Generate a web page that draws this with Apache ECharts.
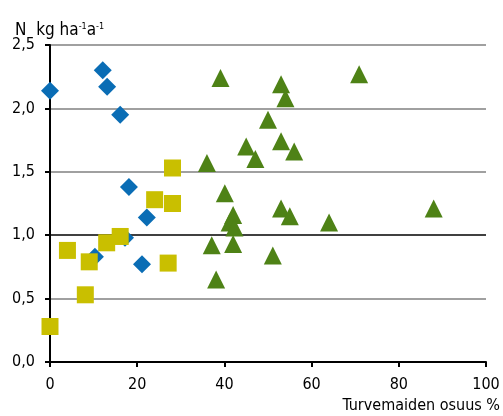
<!DOCTYPE html>
<html>
<head>
<meta charset="utf-8">
<script src="https://cdn.jsdelivr.net/npm/echarts@6/dist/echarts.min.js"></script>
<style>
html,body{margin:0;padding:0;background:#fff;}
#chart{width:503px;height:416px;}
</style>
</head>
<body>
<div id="chart"></div>
<script>
// Data: [turvemaiden osuus %, N kg/ha/a]
var blueDiamonds = [
  [0, 2.14], [12.1, 2.30], [13.1, 2.17], [16.1, 1.95], [18.1, 1.38],
  [22.2, 1.14], [17.2, 0.98], [10.3, 0.83], [21.1, 0.77]
];
var yellowSquares = [
  [28.1, 1.53], [24.0, 1.28], [28.1, 1.25], [16.1, 0.99], [13.0, 0.94],
  [4.0, 0.88], [9.0, 0.79], [27.1, 0.78], [8.1, 0.53], [0, 0.28]
];
var greenTriangles = [
  [39.1, 2.24], [53.0, 2.19], [54.0, 2.08], [70.9, 2.27], [50.0, 1.91],
  [45.0, 1.70], [53.0, 1.74], [47.1, 1.60], [56.0, 1.66], [36.0, 1.57],
  [40.1, 1.33], [42.0, 1.16], [41.2, 1.10], [42.3, 1.06], [37.1, 0.92],
  [42.0, 0.93], [51.1, 0.84], [38.1, 0.65], [53.0, 1.21], [55.0, 1.15],
  [64.0, 1.10], [88.0, 1.21]
];
var xTicks = [0, 20, 40, 60, 80, 100];
var yTicks = ['0,0', '0,5', '1,0', '1,5', '2,0', '2,5'];

var FONT = '"Liberation Sans Narrow", "DejaVu Sans Condensed", sans-serif';
var chart = echarts.init(document.getElementById('chart'), null, {renderer: 'canvas'});
chart.setOption({
  animation: false,
  backgroundColor: '#fff',
  title: {
    text: 'N  kg ha{s|-1}a{s|-1}',
    left: 10, top: 17,
    textStyle: {
      fontFamily: FONT, fontSize: 17, fontWeight: 'normal', color: '#000',
      rich: { s: { fontFamily: FONT, fontSize: 9, color: '#000', verticalAlign: 'top', padding: [0, 0, 8, 0] } }
    }
  },
  grid: { left: 50, right: 17, top: 45, bottom: 54, containLabel: false },
  xAxis: {
    type: 'value', min: 0, max: 100, interval: 20,
    name: 'Turvemaiden osuus %',
    nameLocation: 'end', nameGap: 14,
    nameTextStyle: { fontFamily: FONT, fontSize: 16, color: '#000', align: 'right', verticalAlign: 'top', padding: [36, 0, 0, 0] },
    axisLine: { lineStyle: { color: '#000', width: 2 } },
    axisTick: { show: true, inside: false, length: 5, lineStyle: { color: '#000', width: 2 } },
    axisLabel: { fontFamily: FONT, fontSize: 16, color: '#000', margin: 15,
      formatter: function (v) { return xTicks.indexOf(v) >= 0 ? String(v) : ''; } },
    splitLine: { show: false }
  },
  yAxis: {
    type: 'value', min: 0, max: 2.5, interval: 0.5,
    axisLine: { show: true, lineStyle: { color: '#000', width: 2 } },
    axisTick: { show: true, inside: false, length: 5, lineStyle: { color: '#000', width: 2 } },
    axisLabel: { fontFamily: FONT, fontSize: 16, color: '#000', margin: 15,
      formatter: function (v) { return yTicks[Math.round(v / 0.5)]; } },
    splitLine: { show: true, lineStyle: { color: ['#808080', '#808080', '#000000', '#808080', '#808080', '#808080'], width: 1.5 } }
  },
  series: [
    { type: 'scatter', data: blueDiamonds, symbol: 'diamond', symbolSize: 18,
      itemStyle: { color: '#0a6db5', opacity: 1 } },
    { type: 'scatter', data: yellowSquares, symbol: 'rect', symbolSize: 17,
      itemStyle: { color: '#c9bf00', opacity: 1 } },
    { type: 'scatter', data: greenTriangles, symbol: 'triangle', symbolSize: 18,
      itemStyle: { color: '#4e8216', opacity: 1 } }
  ]
});
</script>
</body>
</html>
